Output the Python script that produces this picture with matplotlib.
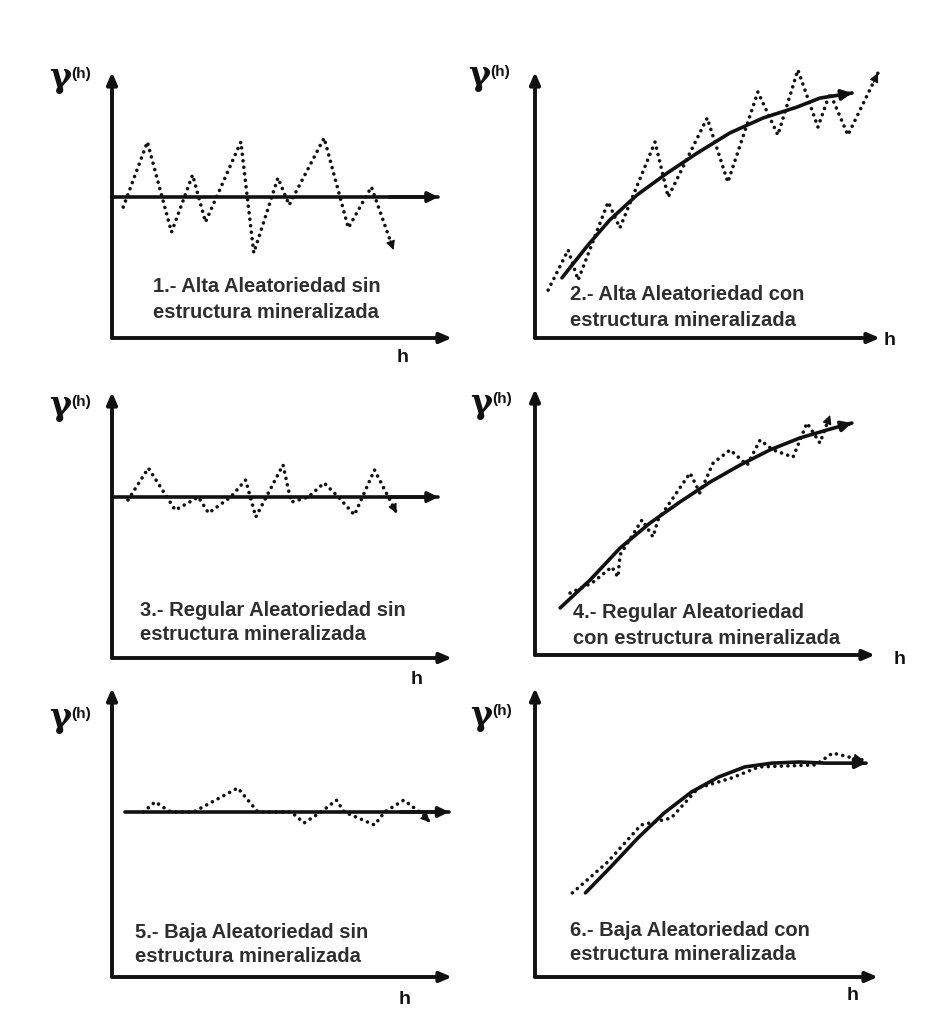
"""Six sketch variograms: randomness level vs. mineralized structure."""

import matplotlib

matplotlib.use("Agg")
import matplotlib.pyplot as plt

W, H = 927, 1030
INK = "#111111"
TEXT = "#2e2e2e"

# panel boxes in pixels: left, right, x-axis row, y-axis top
BOXES = [
    (112, 452, 338, 72),
    (535, 880, 338, 72),
    (112, 452, 658, 392),
    (535, 875, 655, 389),
    (112, 452, 977, 688),
    (535, 878, 977, 688),
]

CAPTIONS = [
    "1.- Alta Aleatoriedad sin\nestructura mineralizada",
    "2.- Alta Aleatoriedad con\nestructura mineralizada",
    "3.- Regular Aleatoriedad sin\nestructura mineralizada",
    "4.- Regular Aleatoriedad\ncon estructura mineralizada",
    "5.- Baja Aleatoriedad sin\nestructura mineralizada",
    "6.- Baja Aleatoriedad con\nestructura mineralizada",
]
CAPTION_POS = [(153, 287), (570, 295), (140, 610), (573, 613), (135, 932), (570, 930)]
GAMMA_POS = [(49, 78), (468, 76), (49, 406), (470, 403), (49, 718), (470, 715)]
H_POS = [(403, 358), (890, 340), (417, 680), (900, 660), (405, 1000), (853, 995)]

# experimental (dotted) variograms, 0-10 units inside each panel
exp1_x = [0.33, 1.04, 1.75, 2.37, 2.75, 3.79, 4.17, 4.88, 5.21, 6.24, 6.95, 7.63, 8.28]
exp1_y = [4.92, 7.37, 3.98, 6.13, 4.36, 7.37, 3.20, 6.02, 5.00, 7.52, 4.14, 5.68, 3.31]
exp2_x = [0.38, 0.96, 1.25, 2.12, 2.46, 3.48, 3.86, 4.99, 5.59, 6.46, 7.04, 7.62, 8.20, 8.55, 9.07, 9.94]
exp2_y = [1.80, 3.31, 2.18, 5.11, 4.14, 7.37, 5.30, 8.27, 5.86, 9.25, 7.63, 10.08, 7.93, 9.21, 7.63, 9.96]
exp3_x = [0.47, 1.07, 1.86, 2.54, 2.84, 3.49, 3.93, 4.23, 5.03, 5.27, 5.77, 6.24, 6.66, 7.13, 7.72, 8.37]
exp3_y = [5.94, 7.14, 5.56, 6.05, 5.45, 6.05, 6.69, 5.30, 7.26, 5.86, 6.05, 6.58, 6.05, 5.38, 7.07, 5.45]
exp4_x = [1.03, 1.68, 2.26, 2.44, 2.50, 3.15, 3.47, 3.62, 4.56, 4.85, 5.24, 5.74, 6.24, 6.62, 7.00, 7.59, 8.00, 8.38, 8.68]
exp4_y = [2.33, 2.71, 3.31, 2.93, 3.76, 5.08, 4.44, 5.08, 6.84, 6.09, 7.22, 7.71, 7.14, 8.08, 7.71, 7.44, 8.72, 7.97, 9.02]
exp5_x = [0.92, 1.27, 1.72, 2.40, 3.70, 4.29, 5.27, 5.65, 6.15, 6.60, 6.83, 7.72, 8.02, 8.58, 9.05, 9.35]
exp5_y = [5.71, 6.06, 5.71, 5.71, 6.54, 5.71, 5.71, 5.33, 5.71, 6.12, 5.71, 5.26, 5.71, 6.12, 5.71, 5.36]
exp6_x = [1.09, 2.12, 3.09, 3.97, 4.76, 5.74, 6.53, 8.18, 8.68, 9.26, 9.56]
exp6_y = [2.91, 3.98, 5.26, 5.50, 6.54, 6.89, 7.27, 7.34, 7.75, 7.58, 7.51]

# fitted (solid) models
fit1_x = [0.0, 9.6]
fit1_y = [5.30, 5.30]
fit2_x = [0.78, 1.54, 2.17, 2.96, 3.83, 4.70, 5.65, 6.61, 7.59, 8.26, 9.19]
fit2_y = [2.26, 3.50, 4.44, 5.38, 6.20, 6.95, 7.71, 8.27, 8.68, 9.02, 9.21]
fit3_x = [0.0, 9.6]
fit3_y = [6.05, 6.05]
fit4_x = [0.74, 1.62, 2.50, 3.38, 4.26, 5.15, 6.03, 6.91, 7.79, 8.59, 9.32]
fit4_y = [1.77, 2.82, 4.02, 4.96, 5.75, 6.50, 7.14, 7.71, 8.16, 8.46, 8.72]
fit5_x = [0.38, 9.91]
fit5_y = [5.71, 5.71]
fit6_x = [1.47, 2.21, 3.00, 3.76, 4.56, 5.35, 6.12, 6.91, 7.71, 8.47, 9.65]
fit6_y = [2.91, 3.81, 4.81, 5.67, 6.40, 6.92, 7.27, 7.40, 7.44, 7.40, 7.40]

EXP = [(exp1_x, exp1_y), (exp2_x, exp2_y), (exp3_x, exp3_y),
       (exp4_x, exp4_y), (exp5_x, exp5_y), (exp6_x, exp6_y)]
FIT = [(fit1_x, fit1_y), (fit2_x, fit2_y), (fit3_x, fit3_y),
       (fit4_x, fit4_y), (fit5_x, fit5_y), (fit6_x, fit6_y)]


def arrow_tip(ax, xs, ys, lw, head="-|>,head_length=0.55,head_width=0.28"):
    # short arrow along the last segment of a polyline
    x0, y0 = xs[-2], ys[-2]
    x1, y1 = xs[-1], ys[-1]
    t = 0.85
    ax.annotate("", xy=(x1, y1), xytext=(x0 + t * (x1 - x0), y0 + t * (y1 - y0)),
                arrowprops=dict(arrowstyle=head, color=INK, lw=lw, shrinkA=0, shrinkB=0),
                annotation_clip=False)


def main() -> None:
    fig = plt.figure(figsize=(W / 100, H / 100), dpi=100, facecolor="white")
    plt.rcParams["font.family"] = ["Liberation Sans", "DejaVu Sans"]

    for i, (l, r, b, t) in enumerate(BOXES):
        ax = fig.add_axes([l / W, 1 - b / H, (r - l) / W, (b - t) / H])
        ax.set_xlim(0, 10)
        ax.set_ylim(0, 10)
        ax.axis("off")

        # coordinate axes with arrowheads
        for end in ((1, 0), (0, 1)):
            ax.annotate("", xy=end, xytext=(0, 0), xycoords="axes fraction",
                        arrowprops=dict(arrowstyle="-|>,head_length=0.7,head_width=0.3",
                                        color=INK, lw=2.8, shrinkA=0, shrinkB=0))

        ex, ey = EXP[i]
        ax.plot(ex, ey, color=INK, lw=2.6, linestyle=(0, (0.01, 1.8)),
                dash_capstyle="round", clip_on=False)
        arrow_tip(ax, ex, ey, 0.8)

        fx, fy = FIT[i]
        ax.plot(fx, fy, color=INK, lw=2.6, solid_capstyle="round",
                solid_joinstyle="round", clip_on=False)
        arrow_tip(ax, fx, fy, 2.6, "-|>,head_length=0.6,head_width=0.3")

        cx, cy = CAPTION_POS[i]
        first, second = CAPTIONS[i].split("\n")
        fig.text(cx / W, 1 - cy / H, first, fontsize=14.5,
                 fontweight="bold", color=TEXT, va="center", ha="left")
        fig.text(cx / W, 1 - (cy + 25) / H, second, fontsize=14.5,
                 fontweight="bold", color=TEXT, va="center", ha="left")

        gx, gy = GAMMA_POS[i]
        fig.text(gx / W, 1 - gy / H, "\u03b3", fontsize=24, fontweight="bold",
                 family="DejaVu Serif", color=INK, va="center", ha="left")
        fig.text((gx + 22) / W, 1 - (gy - 4) / H, "(h)", fontsize=11,
                 fontweight="bold", color=INK, va="center", ha="left")

        hx, hy = H_POS[i]
        fig.text(hx / W, 1 - hy / H, "h", fontsize=14, fontweight="bold",
                 color=INK, va="center", ha="center")

    fig.savefig("out.png", dpi=100, facecolor="white")


if __name__ == "__main__":
    main()
